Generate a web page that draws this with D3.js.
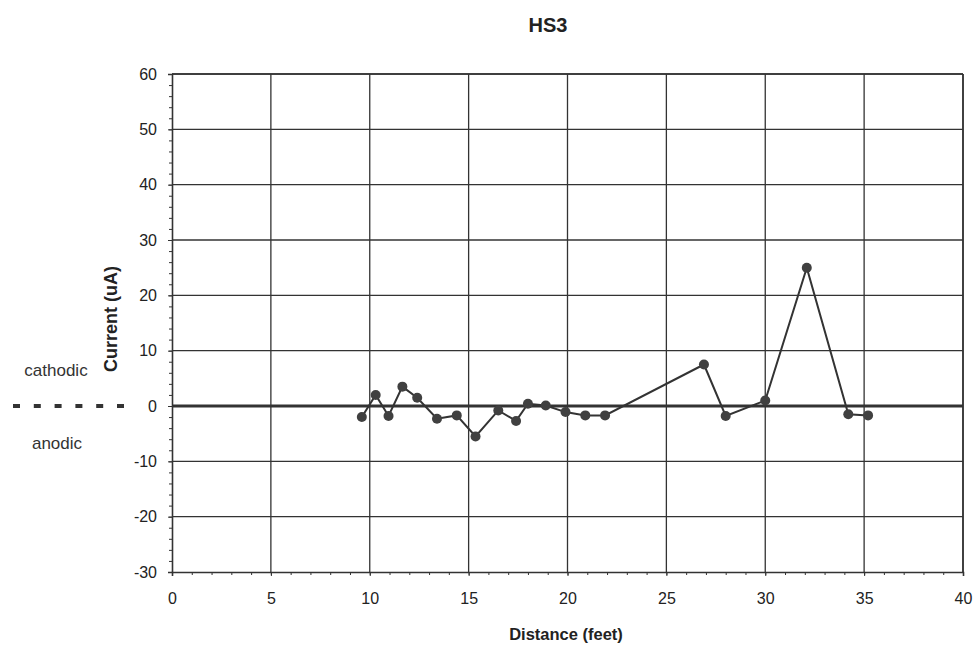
<!DOCTYPE html>
<html><head><meta charset="utf-8">
<script src="https://cdn.jsdelivr.net/npm/d3@7"></script>
<style>body{margin:0;background:#fff;}svg{display:block;font-family:"Liberation Sans",Arial,sans-serif;}</style>
</head><body>
<svg id="c" width="979" height="647"></svg>
<script>
const distance = [9.6, 10.3, 10.95, 11.65, 12.4, 13.4, 14.4, 15.35, 16.5, 17.4, 18.0, 18.9, 19.9, 20.9, 21.9, 26.9, 28.0, 30.0, 32.1, 34.2, 35.2];
const current  = [-2, 2, -1.8, 3.5, 1.5, -2.3, -1.7, -5.5, -0.8, -2.7, 0.4, 0.1, -1.1, -1.7, -1.7, 7.5, -1.8, 1, 25, -1.5, -1.7];
const xTicks = [0, 5, 10, 15, 20, 25, 30, 35, 40];
const yTicks = [60, 50, 40, 30, 20, 10, 0, -10, -20, -30];

const svg = d3.select("#c");
const x = d3.scaleLinear().domain([0, 40]).range([172, 963]);
const y = d3.scaleLinear().domain([-30, 60]).range([572, 74]);
const ink = "#333";
const fmt = d => String(d);

// grid
svg.append("g").selectAll("line").data(xTicks.slice(1)).join("line")
  .attr("x1", d => x(d)).attr("x2", d => x(d)).attr("y1", y(60)).attr("y2", y(-30))
  .attr("stroke", ink).attr("stroke-width", 1.3);
svg.append("g").selectAll("line").data(yTicks.filter(d => d !== -30)).join("line")
  .attr("x1", x(0)).attr("x2", x(40)).attr("y1", d => y(d)).attr("y2", d => y(d))
  .attr("stroke", ink).attr("stroke-width", d => d === 0 ? 3 : 1.3);

// axes
const yAxis = d3.axisLeft(y).tickValues(yTicks).tickSize(4).tickPadding(11).tickFormat(fmt);
const gy = svg.append("g").attr("transform", `translate(${x(0)},0)`).call(yAxis);
const yMinor = d3.axisLeft(y).tickValues(d3.range(-30, 61, 2)).tickSize(3).tickFormat("");
svg.append("g").attr("transform", `translate(${x(0)},0)`).call(yMinor).call(g => g.select(".domain").remove());
const xAxis = d3.axisBottom(x).tickValues(xTicks).tickSize(4).tickPadding(17).tickFormat(fmt);
const gx = svg.append("g").attr("transform", `translate(0,${y(-30)})`).call(xAxis);
const xMinor = d3.axisBottom(x).tickValues(d3.range(0, 41, 1)).tickSize(3).tickFormat("");
svg.append("g").attr("transform", `translate(0,${y(-30)})`).call(xMinor).call(g => g.select(".domain").remove());
[gy, gx].forEach(g => {
  g.attr("font-size", 16).attr("font-family", "Liberation Sans, Arial, sans-serif");
  g.select(".domain").attr("stroke", ink).attr("stroke-width", 1.6);
  g.selectAll("text").attr("fill", "#222");
});
svg.selectAll(".tick line").attr("stroke", ink);
// top/right border
svg.append("line").attr("x1", x(0)).attr("x2", x(40)).attr("y1", y(60)).attr("y2", y(60)).attr("stroke", ink).attr("stroke-width", 1.6);
svg.append("line").attr("x1", x(40)).attr("x2", x(40)).attr("y1", y(60)).attr("y2", y(-30)).attr("stroke", ink).attr("stroke-width", 1.6);

// data line and markers
const pts = distance.map((d, i) => [d, current[i]]);
svg.append("path").datum(pts)
  .attr("d", d3.line().x(d => x(d[0])).y(d => y(d[1])))
  .attr("fill", "none").attr("stroke", "#333").attr("stroke-width", 2);
svg.append("g").selectAll("circle").data(pts).join("circle")
  .attr("cx", d => x(d[0])).attr("cy", d => y(d[1])).attr("r", 5).attr("fill", "#404040");

// titles
svg.append("text").attr("x", 548).attr("y", 32).attr("text-anchor", "middle")
  .attr("font-size", 20).attr("font-weight", "bold").attr("fill", "#222").text("HS3");
svg.append("text").attr("transform", `translate(117,319) rotate(-90)`)
  .attr("text-anchor", "middle").attr("font-size", 18).attr("font-weight", "bold").attr("fill", "#222").text("Current (uA)");
svg.append("text").attr("x", 566).attr("y", 640).attr("text-anchor", "middle")
  .attr("font-size", 16.5).attr("font-weight", "bold").attr("fill", "#222").text("Distance (feet)");

// side annotations
svg.append("text").attr("x", 56).attr("y", 376).attr("text-anchor", "middle")
  .attr("font-size", 17).attr("fill", "#333").text("cathodic");
svg.append("text").attr("x", 57).attr("y", 449).attr("text-anchor", "middle")
  .attr("font-size", 17).attr("fill", "#333").text("anodic");
svg.append("line").attr("x1", 13).attr("x2", 125).attr("y1", y(0)).attr("y2", y(0))
  .attr("stroke", "#333").attr("stroke-width", 4).attr("stroke-dasharray", "7,13.8");
</script>
</body></html>
